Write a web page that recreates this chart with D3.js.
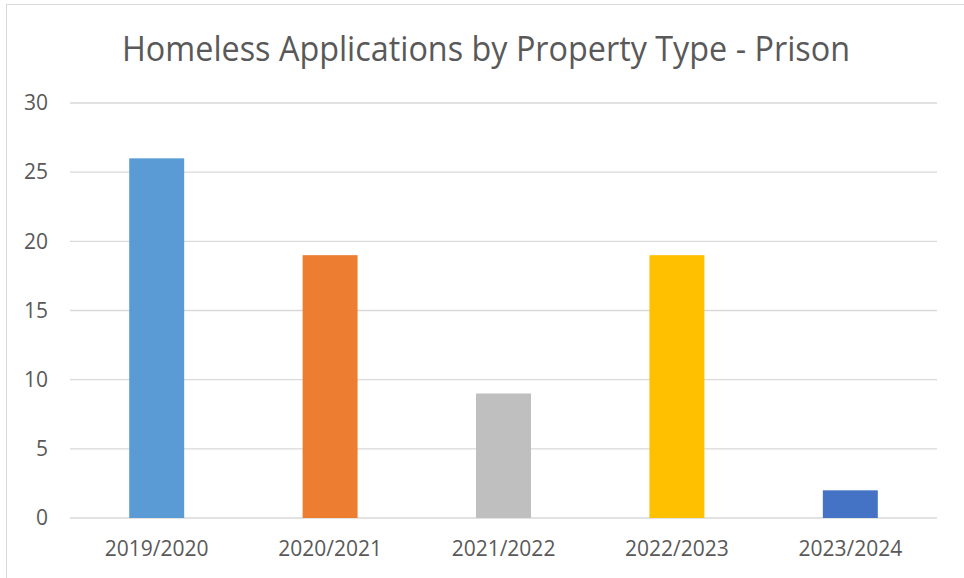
<!DOCTYPE html>
<html>
<head>
<meta charset="utf-8">
<script src="https://cdn.jsdelivr.net/npm/d3@7"></script>
<style>
  body { margin: 0; background: #fff; }
  text { font-family: "Open Sans", sans-serif; fill: #595959; }
</style>
</head>
<body>
<svg id="chart"></svg>
<script>
const years = ["2019/2020", "2020/2021", "2021/2022", "2022/2023", "2023/2024"];
const applications = [26, 19, 9, 19, 2];
const barColors = ["#5B9BD5", "#ED7D31", "#BFBFBF", "#FFC000", "#4472C4"];
const yTicks = [0, 5, 10, 15, 20, 25, 30];

const width = 964;
const height = 578;
const plotLeft = 70, plotRight = 937, plotTop = 103, plotBottom = 518;

const svg = d3.select("#chart")
  .attr("width", width)
  .attr("height", height);

svg.append("rect")
  .attr("x", 6.5)
  .attr("y", 4.5)
  .attr("width", 960)
  .attr("height", 575)
  .attr("fill", "none")
  .attr("stroke", "#d9d9d9");

const x = d3.scaleBand()
  .domain(years)
  .range([plotLeft, plotRight])
  .paddingInner(0.683)
  .paddingOuter(0.3415);

const y = d3.scaleLinear()
  .domain([0, 30])
  .range([plotBottom, plotTop]);

// gridlines
svg.append("g")
  .selectAll("line")
  .data(yTicks)
  .enter()
  .append("line")
  .attr("x1", plotLeft)
  .attr("x2", plotRight)
  .attr("y1", d => y(d))
  .attr("y2", d => y(d))
  .attr("stroke", "#d9d9d9")
  .attr("stroke-width", 1.3);

const yAxis = d3.axisLeft(y).tickValues(yTicks).tickSize(0).tickPadding(0);
svg.append("g")
  .attr("transform", `translate(48, 0)`)
  .call(yAxis)
  .call(g => g.select(".domain").remove())
  .selectAll("text")
  .attr("font-size", 21)
  .attr("font-family", "Open Sans")
  .attr("fill", "#595959");

svg.selectAll(".bar")
  .data(years)
  .enter()
  .append("rect")
  .attr("class", "bar")
  .attr("x", d => x(d))
  .attr("y", (d, i) => y(applications[i]))
  .attr("width", x.bandwidth())
  .attr("height", (d, i) => y(0) - y(applications[i]))
  .attr("fill", (d, i) => barColors[i]);

const xAxis = d3.axisBottom(x).tickSize(0).tickPadding(0);
svg.append("g")
  .attr("transform", `translate(0, ${plotBottom})`)
  .call(xAxis)
  .call(g => g.select(".domain").remove())
  .selectAll("text")
  .attr("dy", null)
  .attr("y", 38)
  .attr("font-size", 21)
  .attr("font-family", "Open Sans")
  .attr("fill", "#595959");

svg.append("text")
  .attr("x", 486)
  .attr("y", 61)
  .attr("text-anchor", "middle")
  .attr("font-size", 35)
  .attr("textLength", 728)
  .attr("lengthAdjust", "spacingAndGlyphs")
  .text("Homeless Applications by Property Type - Prison");
</script>
</body>
</html>
